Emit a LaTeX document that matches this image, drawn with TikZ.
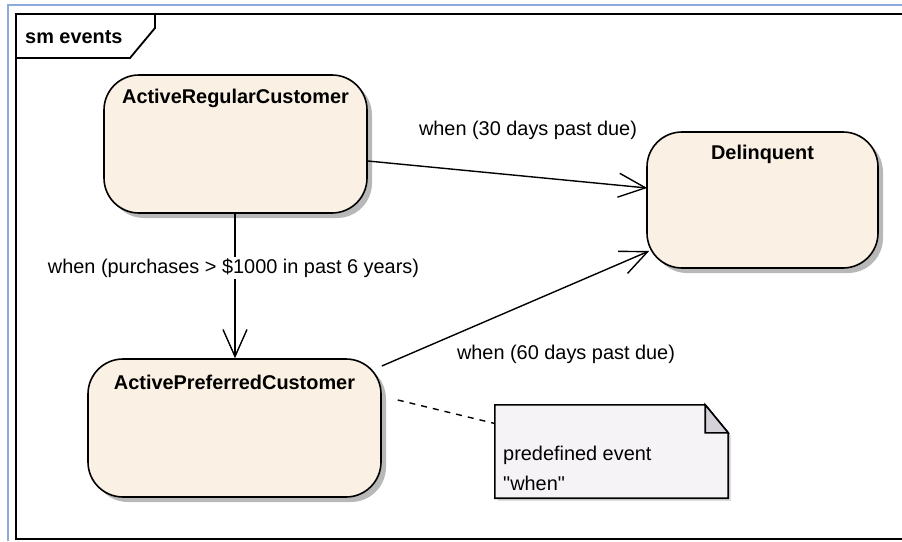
\documentclass[tikz,border=0pt]{standalone}
\usepackage{fontspec}
\setmainfont{Liberation Sans}
\usetikzlibrary{arrows.meta,shadows}
\definecolor{statefill}{HTML}{FAF0E3}
\definecolor{notefill}{HTML}{F6F3F7}
\definecolor{foldfill}{HTML}{D5D1D8}
\definecolor{bluerule}{HTML}{8FA9DD}
\begin{document}
\begin{tikzpicture}[x=1pt,y=-1pt,
  titlefont/.style={font=\bfseries\fontsize{19.9}{22}\selectfont},
  plainfont/.style={font=\fontsize{19.9}{30}\selectfont},
  statebox/.style={draw, line width=1.6pt, fill=statefill, rounded corners=35pt, inner sep=0pt,
    drop shadow={shadow xshift=5pt, shadow yshift=-5pt, fill=black!28, opacity=1}},
  statetitle/.style={titlefont, anchor=center, yshift=-24pt},
  transition/.style={line width=1.4pt, -{Straight Barb[length=27pt, width=24pt]}},
  edgelabel/.style={plainfont, fill=white, inner sep=2pt},
  framerule/.style={line width=1.8pt, black},
  notelink/.style={line width=1.4pt, dash pattern=on 6pt off 6pt}
]
\useasboundingbox (0,0) rectangle (902,541);
\fill[white] (0,0) rectangle (902,541);
% outer blue rule
\draw[bluerule, line width=2pt] (8,541) -- (8,5) -- (902,5);
% frame
\draw[framerule] (902,14) -- (16,14) -- (16,539) -- (902,539);
\draw[framerule] (16,58) -- (130,58) -- (155,28) -- (155,14);
\node[titlefont, anchor=west, inner sep=0pt] (frametitle) at (25,37) {sm events};

% states
\node[statebox, minimum width=263pt, minimum height=138pt,
  label={[statetitle]north:ActiveRegularCustomer}] (arc) at (235.5,144) {};
\node[statebox, minimum width=293pt, minimum height=138pt,
  label={[statetitle]north:ActivePreferredCustomer}] (apc) at (234.5,428) {};
\node[statebox, minimum width=231pt, minimum height=136pt,
  label={[statetitle, yshift=1pt]north:Delinquent}] (del) at (762.5,200) {};

% transitions
\draw[transition] ([yshift=-17pt]arc.east) -- ([xshift=1pt,yshift=12pt]del.west);
\draw[transition] (arc.south -| 235,0) -- (apc.north -| 235,0);
\draw[transition] ([yshift=62pt]apc.east) -- ([xshift=3pt,yshift=-51pt]del.west);

\node[edgelabel] (lab1) at (528,130) {when (30 days past due)};
\node[edgelabel] (lab2) at (233.5,268) {when (purchases > \$1000 in past 6 years)};
\node[edgelabel] (lab3) at (566,354) {when (60 days past due)};

% note
\node[minimum width=233pt, minimum height=93pt, inner sep=0pt] (note) at (611.5,451.5) {};
\fill[black!12] ([xshift=3pt,yshift=-3pt]note.north west) -- ([xshift=-20pt,yshift=-3pt]note.north east)
  -- ([xshift=3pt,yshift=-31pt]note.north east) -- ([xshift=3pt,yshift=-3pt]note.south east)
  -- ([xshift=3pt,yshift=-3pt]note.south west) -- cycle;
\draw[line width=1.6pt, fill=notefill, line join=miter]
  (note.north west) -- ([xshift=-23pt]note.north east) -- ([yshift=-28pt]note.north east)
  -- (note.south east) -- (note.south west) -- cycle;
\draw[line width=1.6pt, fill=foldfill, line join=miter]
  ([xshift=-23pt]note.north east) -- ([xshift=-23pt,yshift=-28pt]note.north east)
  -- ([yshift=-28pt]note.north east) -- cycle;
\node[plainfont, anchor=west, align=left, inner sep=0pt] (notetext) at (503,468)
  {predefined event\\\textquotedbl when\textquotedbl};
\draw[notelink] ([xshift=16pt,yshift=28pt]apc.east) -- ([yshift=28pt]note.west);
\end{tikzpicture}
\end{document}
